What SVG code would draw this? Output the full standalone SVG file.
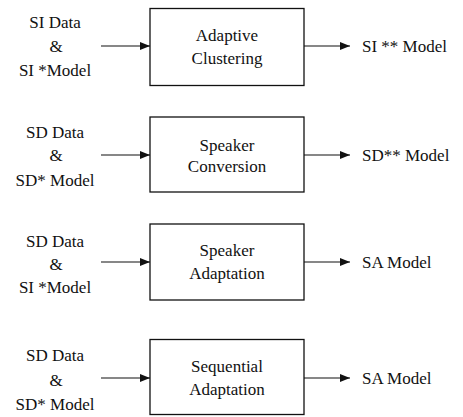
<svg xmlns="http://www.w3.org/2000/svg" width="463" height="417" viewBox="0 0 463 417">
<defs>
<marker id="ah" markerWidth="10" markerHeight="8" refX="10" refY="4" orient="auto" markerUnits="userSpaceOnUse">
<path d="M0,0 L10,4 L0,8 Z" fill="#111"/>
</marker>
<style>
text{font-family:'Liberation Serif','Times New Roman',serif;font-size:17px;fill:#111}
.c{text-anchor:middle}
.box{fill:#fff;stroke:#111;stroke-width:1.3}
.ln{stroke:#111;stroke-width:1.2;fill:none;marker-end:url(#ah)}
</style>
</defs>
<rect width="463" height="417" fill="#fff"/>
<g id="in1"><text class="c" x="55" y="28">SI Data</text><text class="c" x="56" y="52">&amp;</text><text class="c" x="55" y="76">SI *Model</text></g>
<g id="n1"><rect class="box" x="150" y="8.5" width="154" height="77"/><text class="c" x="227" y="41">Adaptive</text><text class="c" x="227" y="64">Clustering</text></g>
<g id="out1"><text x="362" y="52">SI ** Model</text></g>
<g id="in2"><text class="c" x="55" y="138">SD Data</text><text class="c" x="56" y="161">&amp;</text><text class="c" x="55" y="186">SD* Model</text></g>
<g id="n2"><rect class="box" x="150" y="117" width="154" height="75"/><text class="c" x="227" y="151">Speaker</text><text class="c" x="227" y="172">Conversion</text></g>
<g id="out2"><text x="362" y="161">SD** Model</text></g>
<g id="in3"><text class="c" x="55" y="247">SD Data</text><text class="c" x="56" y="270">&amp;</text><text class="c" x="55" y="293">SI *Model</text></g>
<g id="n3"><rect class="box" x="150" y="224" width="154" height="76"/><text class="c" x="227" y="256">Speaker</text><text class="c" x="227" y="279">Adaptation</text></g>
<g id="out3"><text x="362" y="268">SA Model</text></g>
<g id="in4"><text class="c" x="55" y="361">SD Data</text><text class="c" x="56" y="386">&amp;</text><text class="c" x="55" y="410">SD* Model</text></g>
<g id="n4"><rect class="box" x="150" y="339.5" width="154" height="75"/><text class="c" x="227" y="372">Sequential</text><text class="c" x="227" y="395">Adaptation</text></g>
<g id="out4"><text x="362" y="384">SA Model</text></g>
<g id="connectors">
<line class="ln" x1="101" y1="46" x2="150" y2="46"/>
<line class="ln" x1="304" y1="46" x2="350" y2="46"/>
<line class="ln" x1="101" y1="155" x2="150" y2="155"/>
<line class="ln" x1="304" y1="155" x2="350" y2="155"/>
<line class="ln" x1="101" y1="262" x2="150" y2="262"/>
<line class="ln" x1="304" y1="262" x2="350" y2="262"/>
<line class="ln" x1="101" y1="378" x2="150" y2="378"/>
<line class="ln" x1="304" y1="378" x2="350" y2="378"/>
</g>
</svg>
